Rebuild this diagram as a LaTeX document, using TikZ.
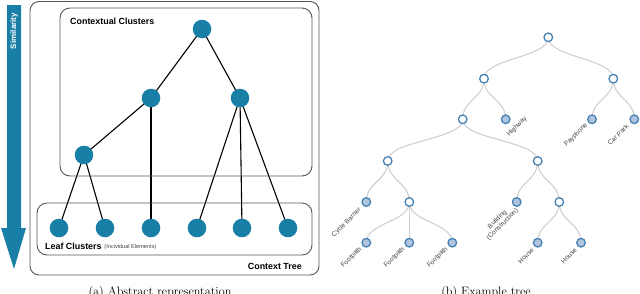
\documentclass[tikz,border=0pt]{standalone}
\usepackage{fontspec}
\newfontfamily\hv{Liberation Sans}
\usetikzlibrary{calc,backgrounds}
\definecolor{tblue}{HTML}{1A7FA6}
\definecolor{boxgray}{HTML}{555555}
\definecolor{sblue}{HTML}{4682B4}
\definecolor{lsblue}{HTML}{B0C4DE}
\definecolor{linkgray}{HTML}{D0D0D0}
\definecolor{lblgray}{HTML}{444444}
\begin{document}
\begin{tikzpicture}[x=1pt,y=-1pt,
  panelbox/.style={draw=boxgray,line width=0.9pt,rounded corners=9pt},
  bignode/.style={circle,fill=tblue,minimum size=18.6pt,inner sep=0pt},
  treeedge/.style={black,line width=1.1pt},
  opennode/.style={circle,draw=sblue,fill=white,line width=1.3pt,minimum size=8.6pt,inner sep=0pt},
  leafnode/.style={circle,draw=sblue,fill=lsblue,line width=1.3pt,minimum size=8.6pt,inner sep=0pt},
  link/.style={draw=linkgray,line width=1.1pt},
  diag/.style={to path={let \p1=(\tikztostart), \p2=(\tikztotarget) in
     .. controls (\x1,{0.5*\y1+0.5*\y2}) and (\x2,{0.5*\y1+0.5*\y2}) .. (\tikztotarget)}},
  lbl/.style={font=\hv\fontsize{6.6}{7}\selectfont,text=lblgray,rotate=45,inner sep=0pt,align=center},
  boldlbl/.style={font=\hv\bfseries\fontsize{8.9}{10}\selectfont,inner sep=0pt},
  caption/.style={font=\fontsize{12.2}{14}\selectfont,inner sep=0pt,anchor=north}]
\useasboundingbox (0,0) rectangle (640,293);

% ---------- left panel ----------
\fill[tblue] (7,5) -- (21,5) -- (21,228) -- (26,228) -- (14,269) -- (1,228) -- (7,228) -- cycle;
\node[font=\hv\bfseries\fontsize{8}{9}\selectfont,text=white,rotate=90,inner sep=0pt] (sim) at (14,31) {Similarity};

\draw[panelbox] (30,1.5) rectangle (319,275);
\draw[panelbox,rounded corners=10pt] (60,8) rectangle (312,176);
\draw[panelbox,rounded corners=10pt] (37,203) rectangle (312,255);

\node[boldlbl,anchor=west] (cc) at (70,21.5) {Contextual Clusters};
\node[boldlbl,anchor=west] (lc) at (45,246) {Leaf Clusters};
\node[font=\hv\fontsize{5.6}{6}\selectfont,text=lblgray,anchor=west,inner sep=0pt] (ie) at ($(lc.east)+(2.5,0.6)$) {(Incividual Elements)};
\node[boldlbl,anchor=east] (ct) at (302,266) {Context Tree};

\node[bignode] (R) at (202,29) {};
\node[bignode] (A) at (151,98) {};
\node[bignode] (B) at (240,98) {};
\node[bignode] (C) at (84,155) {};
\node[bignode] (L1) at (59,228) {};
\node[bignode] (L2) at (105,228) {};
\node[bignode] (L3) at (151,228) {};
\node[bignode] (L4) at (197,228) {};
\node[bignode] (L5) at (242,228) {};
\node[bignode] (L6) at (288,228) {};
\begin{scope}[on background layer]
\draw[treeedge] (R.center) -- (A.center);
\draw[treeedge] (R.center) -- (B.center);
\draw[treeedge] (A.center) -- (C.center);
\draw[treeedge] (A.center) -- (L3.center);
\draw[treeedge] (C.center) -- (L1.center);
\draw[treeedge] (C.center) -- (L2.center);
\draw[treeedge] (B.center) -- (L4.center);
\draw[treeedge] (B.center) -- (L5.center);
\draw[treeedge] (B.center) -- (L6.center);
\end{scope}

\node[caption] (capa) at (160,286) {(a) Abstract representation};

% ---------- right panel ----------
\node[opennode] (r) at (548.3,37.3) {};
\node[opennode] (a) at (484,78.7) {};
\node[opennode] (b) at (613.3,78.7) {};
\node[opennode] (c) at (462.7,119.3) {};
\node[leafnode] (hw) at (505.7,119.3) {};
\node[leafnode] (pp) at (592,119.3) {};
\node[leafnode] (cp) at (634.3,119.3) {};
\node[opennode] (d) at (387.7,161) {};
\node[opennode] (e) at (537.7,161) {};
\node[leafnode] (cb) at (366.3,202) {};
\node[opennode] (f) at (409.3,202) {};
\node[leafnode] (bu) at (516.7,202) {};
\node[opennode] (g) at (559.3,202) {};
\node[leafnode] (f1) at (366.3,242.7) {};
\node[leafnode] (f2) at (409.3,242.7) {};
\node[leafnode] (f3) at (452.3,242.7) {};
\node[leafnode] (h1) at (537.7,242.7) {};
\node[leafnode] (h2) at (581,242.7) {};

\begin{scope}[on background layer]
\foreach \p/\q in {r/a,r/b,a/c,a/hw,b/pp,b/cp,c/d,c/e,d/cb,d/f,f/f1,f/f2,f/f3,e/bu,e/g,g/h1,g/h2}
  \draw[link] (\p.center) to[diag] (\q.center);
\end{scope}

\node[lbl] (thw) at (517,126.5) {Highway};
\node[lbl] (tpp) at (576,135) {Payphone};
\node[lbl] (tcp) at (618,135) {Car Park};
\node[lbl] (tcb) at (346.5,222.5) {Cycle Barrier};
\node[lbl] (tbu) at (500,222) {Building\\(Construction)};
\node[lbl] (tf1) at (351.5,257.5) {Footpath};
\node[lbl] (tf2) at (394.5,257.5) {Footpath};
\node[lbl] (tf3) at (437.5,257.5) {Footpath};
\node[lbl] (th1) at (526,256) {House};
\node[lbl] (th2) at (569,256) {House};

\node[caption] (capb) at (486,286) {(b) Example tree};
\end{tikzpicture}
\end{document}
